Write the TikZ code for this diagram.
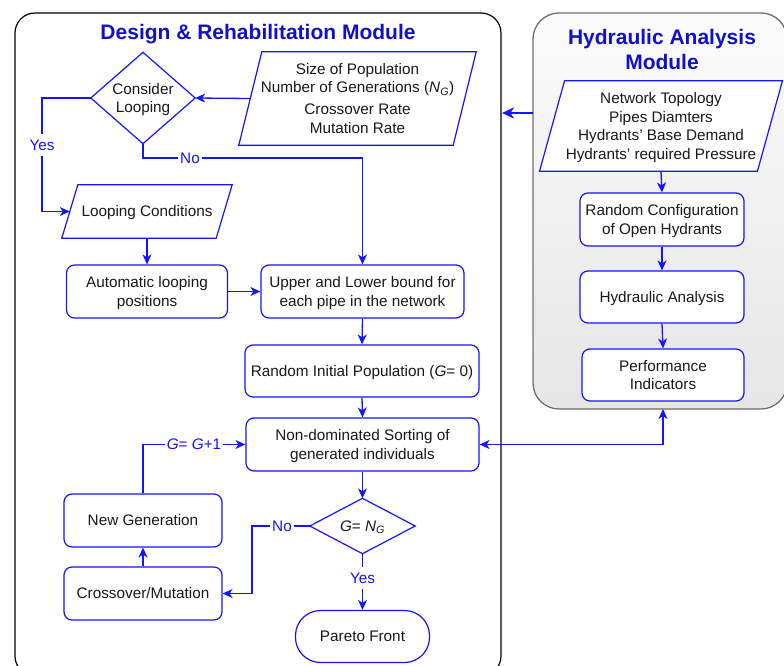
\documentclass[tikz,border=0pt]{standalone}
\usepackage{fontspec}
\setmainfont{Liberation Sans}
\usetikzlibrary{arrows.meta}
\definecolor{lineblue}{RGB}{20,20,255}
\definecolor{titleblue}{RGB}{16,16,204}
\definecolor{txt}{RGB}{25,25,25}
\definecolor{grayedge}{RGB}{110,110,110}
\newcommand{\fs}{\fontsize{15.3}{18.5}\selectfont}
\newcommand{\lowr}[1]{\raisebox{-1.7pt}[\height][\depth]{\begin{tabular}{@{}c@{}}#1\end{tabular}}}
\tikzset{
  base/.style={inner sep=1pt, align=center, font=\fs, text=txt},
  rbox/.style={base, draw=lineblue, line width=1.2pt, rounded corners=8pt, fill=white},
  shapebox/.style={base},
  outline/.style={draw=lineblue, line width=1.2pt},
  arr/.style={draw=lineblue, line width=1.3pt, -{Stealth[length=10pt,width=9pt,inset=3pt]}},
  lbl/.style={fill=white, inner sep=2pt, font=\fs, text=lineblue},
  title/.style={font=\fontsize{21}{24.5}\selectfont\bfseries, text=titleblue, align=center},
}
\begin{document}
\begin{tikzpicture}[x=1pt,y=-1pt]
\useasboundingbox (0,0) rectangle (784,666);
% module frames
\draw[black, line width=1.2pt, rounded corners=20pt] (15,13) rectangle (501,676);
\draw[grayedge, line width=1.3pt, rounded corners=26pt, top color=gray!3, bottom color=gray!20] (533,13) rectangle (787,409);
\node[title] (t1) at (258,34) {Design \& Rehabilitation Module};
\node[title] (t2) at (662,49.5) {Hydraulic Analysis\\Module};

% left module nodes
\node[shapebox, minimum width=104, minimum height=91] (cl) at (143,98) {};
\draw[outline, fill=white] (cl.north) -- (cl.east) -- (cl.south) -- (cl.west) -- cycle;
\node[shapebox] at (cl.center) {\lowr{Consider\\Looping}};

\node[shapebox, minimum width=214, minimum height=93] (size) at (357.5,98.5) {};
\draw[outline, fill=white] ([xshift=11.5pt]size.north west) -- ([xshift=11.5pt]size.north east) -- ([xshift=-11.5pt]size.south east) -- ([xshift=-11.5pt]size.south west) -- cycle;
\node[shapebox] at (size.center) {\lowr{Size of Population\\Number of Generations (\textit{N}\textsubscript{\textit{G}})\\[3.5pt]Crossover Rate\\Mutation Rate}};

\node[shapebox, minimum width=154, minimum height=53] (loopc) at (147,211.5) {};
\draw[outline, fill=white] ([xshift=8pt]loopc.north west) -- ([xshift=8pt]loopc.north east) -- ([xshift=-8pt]loopc.south east) -- ([xshift=-8pt]loopc.south west) -- cycle;
\node[shapebox] at (loopc.center) {\lowr{Looping Conditions}};

\node[rbox, minimum width=161, minimum height=53] (auto) at (147,291.5) {\lowr{Automatic looping\\positions}};
\node[rbox, minimum width=203, minimum height=53] (upper) at (362.5,291.5) {\lowr{Upper and Lower bound for\\each pipe in the network}};
\node[rbox, minimum width=234, minimum height=52] (rip) at (362,371) {\lowr{Random Initial Population (\textit{G}= 0)}};
\node[rbox, minimum width=233, minimum height=53] (nds) at (362.5,444.5) {\lowr{Non-dominated Sorting of\\generated individuals}};

\node[shapebox, minimum width=105, minimum height=55] (gng) at (362.5,526) {};
\draw[outline, fill=white] (gng.north) -- (gng.east) -- (gng.south) -- (gng.west) -- cycle;
\node[shapebox] at (gng.center) {\lowr{\textit{G}= \textit{N}\textsubscript{\textit{G}}}};

\node[rbox, minimum width=134, minimum height=52, rounded corners=25pt] (pareto) at (362.5,636.5) {\lowr{Pareto Front}};
\node[rbox, minimum width=158, minimum height=53] (ng) at (143,520.5) {\lowr{New Generation}};
\node[rbox, minimum width=158, minimum height=53] (cm) at (143,593.5) {\lowr{Crossover/Mutation}};

% right module nodes
\node[shapebox, minimum width=217.5, minimum height=90] (net) at (661,126) {};
\draw[outline, fill=white] ([xshift=12.5pt]net.north west) -- ([xshift=12.5pt]net.north east) -- ([xshift=-12.5pt]net.south east) -- ([xshift=-12.5pt]net.south west) -- cycle;
\node[shapebox] at (net.center) {\lowr{Network Topology\\Pipes Diamters\\Hydrants' Base Demand\\Hydrants' required Pressure}};

\node[rbox, minimum width=164, minimum height=53] (rc) at (662,219.5) {\lowr{Random Configuration\\of Open Hydrants}};
\node[rbox, minimum width=164, minimum height=52] (ha) at (662,297) {\lowr{Hydraulic Analysis}};
\node[rbox, minimum width=162, minimum height=52] (pi) at (663,375) {\lowr{Performance\\Indicators}};

% coordinates
\coordinate (yesbend) at (42,98);
\coordinate (nobend) at (143,158);
\coordinate (nobend2) at (252,526);
\coordinate (hamL) at (533,113);
\coordinate (drmR) at (502,113);
\coordinate (hamB) at (663,409);

% connectors
\draw[arr] (size.west) -- (cl.east);
\draw[arr] (cl.west) -- (yesbend) |- (loopc.west);
\node[lbl] (lyes) at (42,145) {\lowr{Yes}};
\draw[arr] (cl.south) -- (nobend) -| (upper.north);
\node[lbl] (lno) at (190,158) {\lowr{No}};
\draw[arr] (loopc.south) -- (auto.north);
\draw[arr] (auto.east) -- (upper.west);
\draw[arr] (upper.south) -- (rip.north);
\draw[arr] (rip.south) -- (nds.north);
\draw[arr] (nds.south) -- (gng.north);
\draw[arr] (gng.south) -- (pareto.north);
\node[lbl] (lyes2) at (362.5,578) {\lowr{Yes}};
\draw[arr] (gng.west) -- (nobend2) |- (cm.east);
\node[lbl] (lno2) at (282,526) {\lowr{No}};
\draw[arr] (cm.north) -- (ng.south);
\draw[arr] (ng.north) |- (nds.west);
\node[lbl] (lg) at (194,444) {\lowr{\textit{G}= \textit{G}+1}};

\draw[arr] (net.south) -- (rc.north);
\draw[arr] (rc.south) -- (ha.north);
\draw[arr] (ha.south) -- (pi.north);

\draw[draw=lineblue, line width=2.4pt, -{Stealth[length=12pt,width=11pt,inset=3.5pt]}] (hamL) -- (drmR);
\draw[draw=lineblue, line width=1.3pt, {Stealth[length=10pt,width=9pt,inset=3pt]}-{Stealth[length=10pt,width=9pt,inset=3pt]}] (nds.east) -| (hamB);
\end{tikzpicture}
\end{document}
